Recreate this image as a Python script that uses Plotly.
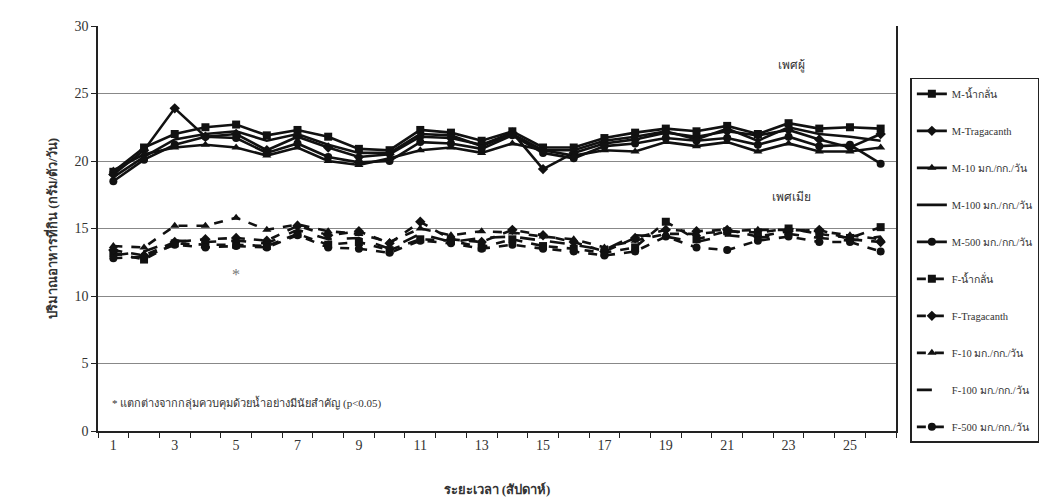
import plotly.graph_objects as go

weeks = list(range(1, 27))

m_water = [19.2, 21.0, 22.0, 22.5, 22.7, 21.9, 22.3, 21.8, 20.9, 20.8, 22.3, 22.1, 21.5, 22.2, 21.0, 21.0, 21.7, 22.1, 22.4, 22.2, 22.6, 22.0, 22.8, 22.4, 22.5, 22.4]
m_trag = [19.0, 20.8, 23.9, 21.8, 22.0, 20.8, 21.8, 21.0, 20.3, 20.5, 21.8, 21.7, 21.2, 22.1, 19.4, 20.6, 21.3, 21.6, 22.1, 21.8, 22.2, 21.9, 22.3, 21.6, 21.0, 22.0]
m_10 = [19.3, 20.5, 21.0, 21.2, 21.0, 20.4, 21.0, 20.0, 19.7, 20.2, 20.8, 21.0, 20.6, 21.3, 20.8, 20.4, 20.8, 20.7, 21.4, 21.1, 21.4, 20.7, 21.3, 20.7, 20.7, 21.0]
m_100 = [18.8, 20.3, 21.6, 22.0, 22.2, 21.5, 22.0, 21.2, 20.6, 20.6, 22.0, 21.9, 21.1, 22.0, 20.8, 20.8, 21.5, 21.8, 22.2, 21.6, 22.4, 21.5, 22.5, 22.0, 21.8, 21.5]
m_500 = [18.5, 20.1, 21.2, 21.8, 21.7, 20.6, 21.3, 20.3, 19.9, 20.0, 21.4, 21.3, 20.9, 21.9, 20.6, 20.2, 21.1, 21.3, 21.7, 21.5, 21.7, 21.2, 21.8, 21.1, 21.2, 19.8]

f_water = [13.2, 12.7, 13.9, 13.8, 13.8, 13.7, 14.6, 13.8, 14.0, 13.4, 14.2, 14.1, 13.6, 14.2, 13.7, 13.5, 13.2, 13.6, 15.5, 14.2, 14.8, 14.7, 15.0, 14.6, 14.3, 15.1]
f_trag = [13.4, 13.0, 14.0, 14.2, 14.3, 14.1, 15.2, 14.5, 14.8, 13.9, 15.5, 14.2, 14.0, 14.9, 14.5, 14.0, 13.3, 14.3, 14.9, 14.8, 14.9, 14.4, 14.8, 14.9, 14.2, 14.0]
f_10 = [13.7, 13.6, 15.2, 15.2, 15.8, 14.9, 15.3, 14.8, 14.6, 14.0, 15.0, 14.5, 14.8, 14.7, 14.4, 14.2, 13.6, 14.1, 14.6, 14.6, 14.8, 14.9, 14.9, 14.8, 14.5, 14.2]
f_100 = [13.0, 13.3, 14.1, 14.0, 14.1, 13.9, 14.9, 14.2, 14.3, 13.5, 14.6, 14.0, 14.3, 14.4, 14.1, 13.8, 13.4, 14.5, 14.4, 14.0, 14.5, 14.3, 14.6, 14.3, 14.1, 14.4]
f_500 = [12.8, 12.9, 13.8, 13.6, 13.7, 13.6, 14.5, 13.6, 13.5, 13.2, 14.1, 13.9, 13.5, 13.8, 13.5, 13.3, 13.0, 13.3, 14.4, 13.6, 13.4, 14.1, 14.4, 14.0, 14.0, 13.3]

series_names = [
    "M-น้ำกลั่น", "M-Tragacanth", "M-10 มก./กก./วัน", "M-100 มก./กก./วัน", "M-500 มก./กก./วัน",
    "F-น้ำกลั่น", "F-Tragacanth", "F-10 มก./กก./วัน", "F-100 มก./กก./วัน", "F-500 มก./กก./วัน",
]
series_values = [m_water, m_trag, m_10, m_100, m_500, f_water, f_trag, f_10, f_100, f_500]
symbols = ["square", "diamond", "triangle-up", None, "circle"] * 2

sig_week = [5]
sig_value = [11.5]

xtick_labels = [str(w) for w in range(1, 26, 2)]

FONT = "Liberation Serif, DejaVu Serif, serif"
INK = "#111111"

fig = go.Figure()
for i, (name, vals, sym) in enumerate(zip(series_names, series_values, symbols)):
    female = name.startswith("F")
    if sym is None:
        mode = "lines"
        marker = None
        dash = "longdash" if female else "solid"
    else:
        mode = "lines+markers"
        marker = dict(symbol=sym, size=8, color=INK, line=dict(width=0))
        dash = "dash" if female else "solid"
    fig.add_trace(go.Scatter(
        x=weeks, y=vals, name=name, mode=mode,
        line=dict(color=INK, width=2.6, dash=dash),
        marker=marker, legendgroup=f"g{i}",
    ))

fig.add_trace(go.Scatter(
    x=sig_week, y=sig_value, mode="text", text=["*"],
    textfont=dict(family=FONT, size=16, color="#777777"),
    showlegend=False, hoverinfo="skip",
))

fig.add_annotation(x=23.1, y=27.1, text="เพศผู้", showarrow=False,
                   font=dict(family=FONT, size=12, color="#333333"))
fig.add_annotation(x=23.1, y=17.3, text="เพศเมีย", showarrow=False,
                   font=dict(family=FONT, size=12, color="#333333"))
fig.add_annotation(x=0.9, y=2.1, xanchor="left",
                   text="* แตกต่างจากกลุ่มควบคุมด้วยน้ำอย่างมีนัยสำคัญ (p<0.05)",
                   showarrow=False, font=dict(family=FONT, size=11, color="#333333"))

fig.update_layout(
    width=1064, height=500,
    margin=dict(l=90, r=176, t=18, b=77),
    paper_bgcolor="white", plot_bgcolor="white",
    font=dict(family=FONT, size=13, color="#333333"),
    legend=dict(
        x=1.018, y=0.872, xanchor="left", yanchor="top",
        bordercolor="#222222", borderwidth=1.5,
        font=dict(family=FONT, size=10.5, color="#333333"),
        traceorder="grouped", tracegroupgap=18,
        itemwidth=30,
    ),
    xaxis=dict(
        range=[0.5, 26.5], tickmode="array",
        tickvals=list(range(1, 26, 2)), ticktext=xtick_labels,
        ticks="", showgrid=False, zeroline=False,
        showline=True, linecolor="#222222", linewidth=1.5,
        tickfont=dict(family=FONT, size=14, color="#333333"),
        minor=dict(tickvals=[k + 0.5 for k in range(0, 27)], ticks="outside",
                   ticklen=5, tickcolor="#222222", showgrid=False),
        title=dict(text="<b>ระยะเวลา (สัปดาห์)</b>", standoff=33,
                   font=dict(family=FONT, size=13, color="#333333")),
    ),
    yaxis=dict(
        range=[0, 30], tickmode="array", tickvals=[0, 5, 10, 15, 20, 25, 30],
        ticks="outside", ticklen=5, tickcolor="#222222",
        showgrid=True, gridcolor="#888888", gridwidth=1,
        zeroline=False, showline=True, linecolor="#222222", linewidth=1.5,
        mirror=True,
        tickfont=dict(family=FONT, size=14, color="#333333"),
        title=dict(text="<b>ปริมาณอาหารที่กิน (กรัม/ตัว/วัน)</b>", standoff=14,
                   font=dict(family=FONT, size=13, color="#333333")),
    ),
)

fig.write_html("out.html")
